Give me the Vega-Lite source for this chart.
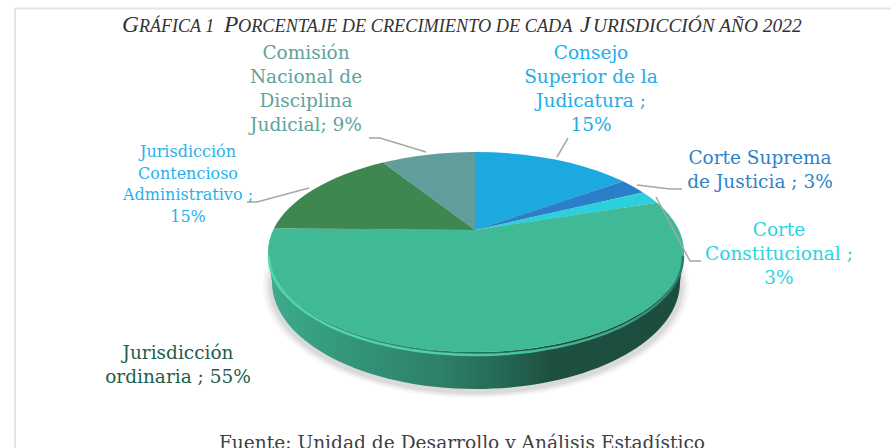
{
"$schema":"https://vega.github.io/schema/vega-lite/v6.json",
"width":891,"height":448,"padding":0,"autosize":"none","background":"white",
"view":{"stroke":null},
"config":{"text":{"font":"DejaVu Serif"}},
"resolve":{"scale":{"shape":"independent"}},
"datasets":{"slices":[
{"name":"Consejo Superior de la Judicatura","value":15,"label":"Consejo\nSuperior de la\nJudicatura ;\n15%"},
{"name":"Corte Suprema de Justicia","value":3,"label":"Corte Suprema\nde Justicia ; 3%"},
{"name":"Corte Constitucional","value":3,"label":"Corte\nConstitucional ;\n3%"},
{"name":"Jurisdicción ordinaria","value":55,"label":"Jurisdicción\nordinaria ; 55%"},
{"name":"Jurisdicción Contencioso Administrativo","value":15,"label":"Jurisdicción\nContencioso\nAdministrativo ;\n15%"},
{"name":"Comisión Nacional de Disciplina Judicial","value":9,"label":"Comisión\nNacional de\nDisciplina\nJudicial; 9%"}
]},
"data":{"name":"slices"},
"layer":[
{"data":{"values":[{"part":"frame"}]},"mark":{"type":"point","shape":"M-461,200 L-461,-243.5 L420,-243.5","size":4,"filled":false,"opacity":1,"stroke":"#e1e5ea","strokeWidth":2},
"encoding":{"x":{"datum":476,"type":"quantitative","scale":{"domain":[0,891],"range":[0,891]},"axis":null},"y":{"datum":252,"type":"quantitative","scale":{"domain":[0,448],"range":[0,448]},"axis":null}}},
{"data":{"values":[{"part":"shadow"}]},"mark":{"type":"point","shape":"M-213,34 A213,112 0 0 0 213,34 A213,112 0 0 0 -213,34 Z","size":4,"filled":true,"opacity":0.05,"fill":"#555555"},
"encoding":{"x":{"datum":476,"type":"quantitative","scale":{"domain":[0,891],"range":[0,891]},"axis":null},"y":{"datum":252,"type":"quantitative","scale":{"domain":[0,448],"range":[0,448]},"axis":null}}},
{"data":{"values":[{"part":"shadow"}]},"mark":{"type":"point","shape":"M-210,34 A210,110 0 0 0 210,34 A210,110 0 0 0 -210,34 Z","size":4,"filled":true,"opacity":0.08,"fill":"#555555"},
"encoding":{"x":{"datum":476,"type":"quantitative","scale":{"domain":[0,891],"range":[0,891]},"axis":null},"y":{"datum":252,"type":"quantitative","scale":{"domain":[0,448],"range":[0,448]},"axis":null}}},
{"data":{"values":[{"part":"shadow"}]},"mark":{"type":"point","shape":"M-207,34 A207,108 0 0 0 207,34 A207,108 0 0 0 -207,34 Z","size":4,"filled":true,"opacity":0.1,"fill":"#555555"},
"encoding":{"x":{"datum":476,"type":"quantitative","scale":{"domain":[0,891],"range":[0,891]},"axis":null},"y":{"datum":252,"type":"quantitative","scale":{"domain":[0,448],"range":[0,448]},"axis":null}}},
{"data":{"values":[{"part":"rim"}]},"mark":{"type":"point","shape":"M208,0 A208,100 0 0 1 -208,0 L-204,30 A204,107 0 0 0 204,30 Z","size":4,"filled":true,"opacity":1,
"fill":{"gradient":"linear","x1":0,"x2":1,"y1":0,"y2":0,"stops":[{"offset":0,"color":"#3eab8c"},{"offset":0.2,"color":"#33957a"},{"offset":0.42,"color":"#2d7f69"},{"offset":0.55,"color":"#266a57"},{"offset":0.68,"color":"#1e5040"},{"offset":1,"color":"#1b4c3e"}]}},
"encoding":{"x":{"datum":476,"type":"quantitative","scale":{"domain":[0,891],"range":[0,891]},"axis":null},"y":{"datum":252,"type":"quantitative","scale":{"domain":[0,448],"range":[0,448]},"axis":null}}},
{"mark":{"type":"point","size":4,"filled":true,"opacity":1,"strokeWidth":0},
"encoding":{"x":{"datum":476,"type":"quantitative","scale":{"domain":[0,891],"range":[0,891]},"axis":null},"y":{"datum":252,"type":"quantitative","scale":{"domain":[0,448],"range":[0,448]},"axis":null},
"color":{"field":"name","type":"nominal","legend":null,"scale":{"domain":["Consejo Superior de la Judicatura","Corte Suprema de Justicia","Corte Constitucional","Jurisdicción ordinaria","Jurisdicción Contencioso Administrativo","Comisión Nacional de Disciplina Judicial"],"range":["#1ca9e0","#2a7fc8","#2ccfdc","#3fb996","#3f8750","#609d9b"]}},
"shape":{"field":"name","type":"nominal","legend":null,"scale":{"domain":["Consejo Superior de la Judicatura","Corte Suprema de Justicia","Corte Constitucional","Jurisdicción ordinaria","Jurisdicción Contencioso Administrativo","Comisión Nacional de Disciplina Judicial"],"range":[
"M-1,-22 L-1,-100 A208,100 0 0 1 147,-70.7 Z",
"M-1,-22 L147,-70.7 A208,100 0 0 1 167,-59.6 Z",
"M-1,-22 L167,-59.6 A208,100 0 0 1 181,-49.3 Z",
"M-1,-22 L181,-49.3 A208,100 0 1 1 -202,-23.8 Z",
"M-1,-22 L-202,-23.8 A208,100 0 0 1 -93,-89.4 Z",
"M-1,-22 L-93,-89.4 A208,100 0 0 1 -1,-100 Z"]}}}},
{"data":{"values":[{"part":"edge"}]},"mark":{"type":"point","shape":"M207,4 A207,99 0 0 1 -207,4","size":4,"filled":false,"opacity":1,"strokeWidth":2.5,
"stroke":{"gradient":"linear","x1":0,"x2":1,"y1":0,"y2":0,"stops":[{"offset":0,"color":"#4fd8ae"},{"offset":0.5,"color":"#4bcfa6"},{"offset":0.85,"color":"#3aa588"},{"offset":1,"color":"#2a7d66"}]}},
"encoding":{"x":{"datum":476,"type":"quantitative","scale":{"domain":[0,891],"range":[0,891]},"axis":null},"y":{"datum":252,"type":"quantitative","scale":{"domain":[0,448],"range":[0,448]},"axis":null}}},
{"transform":[{"filter":"datum.name!=='Jurisdicción ordinaria'"}],"mark":{"type":"point","size":4,"filled":false,"opacity":1,"stroke":"#a6a6a6","strokeWidth":1.5},
"encoding":{"x":{"datum":476,"type":"quantitative","scale":{"domain":[0,891],"range":[0,891]},"axis":null},"y":{"datum":252,"type":"quantitative","scale":{"domain":[0,448],"range":[0,448]},"axis":null},
"shape":{"field":"name","type":"nominal","legend":null,"scale":{"domain":["Consejo Superior de la Judicatura","Corte Suprema de Justicia","Corte Constitucional","Jurisdicción Contencioso Administrativo","Comisión Nacional de Disciplina Judicial"],"range":[
"M92,-114 L81,-95",
"M161,-67 L194,-63 L206,-63",
"M180,-55 L214,9 L225,9",
"M-229,-50 L-219,-50 L-167,-64",
"M-107,-114 L-96,-114 L-50,-100"]}}}},
{"transform":[{"filter":"datum.name==='Consejo Superior de la Judicatura'"}],"mark":{"type":"text","fontSize":18.5,"lineHeight":24,"lineBreak":"\n","align":"center","baseline":"middle","color":"#22ade8"},"encoding":{"text":{"field":"label"},"x":{"datum":591,"type":"quantitative","scale":{"domain":[0,891],"range":[0,891]},"axis":null},"y":{"datum":53,"type":"quantitative","scale":{"domain":[0,448],"range":[0,448]},"axis":null}}},
{"transform":[{"filter":"datum.name==='Corte Suprema de Justicia'"}],"mark":{"type":"text","fontSize":18.5,"lineHeight":24,"lineBreak":"\n","align":"center","baseline":"middle","color":"#2e82c8"},"encoding":{"text":{"field":"label"},"x":{"datum":760,"type":"quantitative","scale":{"domain":[0,891],"range":[0,891]},"axis":null},"y":{"datum":158,"type":"quantitative","scale":{"domain":[0,448],"range":[0,448]},"axis":null}}},
{"transform":[{"filter":"datum.name==='Corte Constitucional'"}],"mark":{"type":"text","fontSize":18.5,"lineHeight":24,"lineBreak":"\n","align":"center","baseline":"middle","color":"#2dd3e0"},"encoding":{"text":{"field":"label"},"x":{"datum":779,"type":"quantitative","scale":{"domain":[0,891],"range":[0,891]},"axis":null},"y":{"datum":230,"type":"quantitative","scale":{"domain":[0,448],"range":[0,448]},"axis":null}}},
{"transform":[{"filter":"datum.name==='Jurisdicción ordinaria'"}],"mark":{"type":"text","fontSize":18.5,"lineHeight":24,"lineBreak":"\n","align":"center","baseline":"middle","color":"#1f5d4a"},"encoding":{"text":{"field":"label"},"x":{"datum":178,"type":"quantitative","scale":{"domain":[0,891],"range":[0,891]},"axis":null},"y":{"datum":353,"type":"quantitative","scale":{"domain":[0,448],"range":[0,448]},"axis":null}}},
{"transform":[{"filter":"datum.name==='Jurisdicción Contencioso Administrativo'"}],"mark":{"type":"text","fontSize":16,"lineHeight":21.6,"lineBreak":"\n","align":"center","baseline":"middle","color":"#2ab0ea"},"encoding":{"text":{"field":"label"},"x":{"datum":188,"type":"quantitative","scale":{"domain":[0,891],"range":[0,891]},"axis":null},"y":{"datum":152,"type":"quantitative","scale":{"domain":[0,448],"range":[0,448]},"axis":null}}},
{"transform":[{"filter":"datum.name==='Comisión Nacional de Disciplina Judicial'"}],"mark":{"type":"text","fontSize":18.5,"lineHeight":24,"lineBreak":"\n","align":"center","baseline":"middle","color":"#5da39c"},"encoding":{"text":{"field":"label"},"x":{"datum":306,"type":"quantitative","scale":{"domain":[0,891],"range":[0,891]},"axis":null},"y":{"datum":53,"type":"quantitative","scale":{"domain":[0,448],"range":[0,448]},"axis":null}}},
{"data":{"values":[{"t":"G"}]},"mark":{"type":"text","font":"Liberation Serif","fontStyle":"italic","fontSize":23.5,"align":"left","baseline":"alphabetic","color":"#333333"},"encoding":{"text":{"field":"t"},"x":{"datum":122,"type":"quantitative","scale":{"domain":[0,891],"range":[0,891]},"axis":null},"y":{"datum":32,"type":"quantitative","scale":{"domain":[0,448],"range":[0,448]},"axis":null}}},
{"data":{"values":[{"t":"RÁFICA 1"}]},"mark":{"type":"text","font":"Liberation Serif","fontStyle":"italic","fontSize":18,"align":"left","baseline":"alphabetic","color":"#333333"},"encoding":{"text":{"field":"t"},"x":{"datum":139,"type":"quantitative","scale":{"domain":[0,891],"range":[0,891]},"axis":null},"y":{"datum":32,"type":"quantitative","scale":{"domain":[0,448],"range":[0,448]},"axis":null}}},
{"data":{"values":[{"t":"P"}]},"mark":{"type":"text","font":"Liberation Serif","fontStyle":"italic","fontSize":23.5,"align":"left","baseline":"alphabetic","color":"#333333"},"encoding":{"text":{"field":"t"},"x":{"datum":224,"type":"quantitative","scale":{"domain":[0,891],"range":[0,891]},"axis":null},"y":{"datum":32,"type":"quantitative","scale":{"domain":[0,448],"range":[0,448]},"axis":null}}},
{"data":{"values":[{"t":"ORCENTAJE DE CRECIMIENTO DE CADA"}]},"mark":{"type":"text","font":"Liberation Serif","fontStyle":"italic","fontSize":18.3,"align":"left","baseline":"alphabetic","color":"#333333"},"encoding":{"text":{"field":"t"},"x":{"datum":238,"type":"quantitative","scale":{"domain":[0,891],"range":[0,891]},"axis":null},"y":{"datum":32,"type":"quantitative","scale":{"domain":[0,448],"range":[0,448]},"axis":null}}},
{"data":{"values":[{"t":"J"}]},"mark":{"type":"text","font":"Liberation Serif","fontStyle":"italic","fontSize":23.5,"align":"left","baseline":"alphabetic","color":"#333333"},"encoding":{"text":{"field":"t"},"x":{"datum":580,"type":"quantitative","scale":{"domain":[0,891],"range":[0,891]},"axis":null},"y":{"datum":32,"type":"quantitative","scale":{"domain":[0,448],"range":[0,448]},"axis":null}}},
{"data":{"values":[{"t":"URISDICCIÓN AÑO 2022"}]},"mark":{"type":"text","font":"Liberation Serif","fontStyle":"italic","fontSize":19.4,"align":"left","baseline":"alphabetic","color":"#333333"},"encoding":{"text":{"field":"t"},"x":{"datum":593,"type":"quantitative","scale":{"domain":[0,891],"range":[0,891]},"axis":null},"y":{"datum":32,"type":"quantitative","scale":{"domain":[0,448],"range":[0,448]},"axis":null}}},
{"data":{"values":[{"t":"Fuente: Unidad de Desarrollo y Análisis Estadístico"}]},"mark":{"type":"text","fontSize":18.6,"align":"center","baseline":"alphabetic","color":"#404040"},"encoding":{"text":{"field":"t"},"x":{"datum":462,"type":"quantitative","scale":{"domain":[0,891],"range":[0,891]},"axis":null},"y":{"datum":449,"type":"quantitative","scale":{"domain":[0,448],"range":[0,448]},"axis":null}}}
]
}
